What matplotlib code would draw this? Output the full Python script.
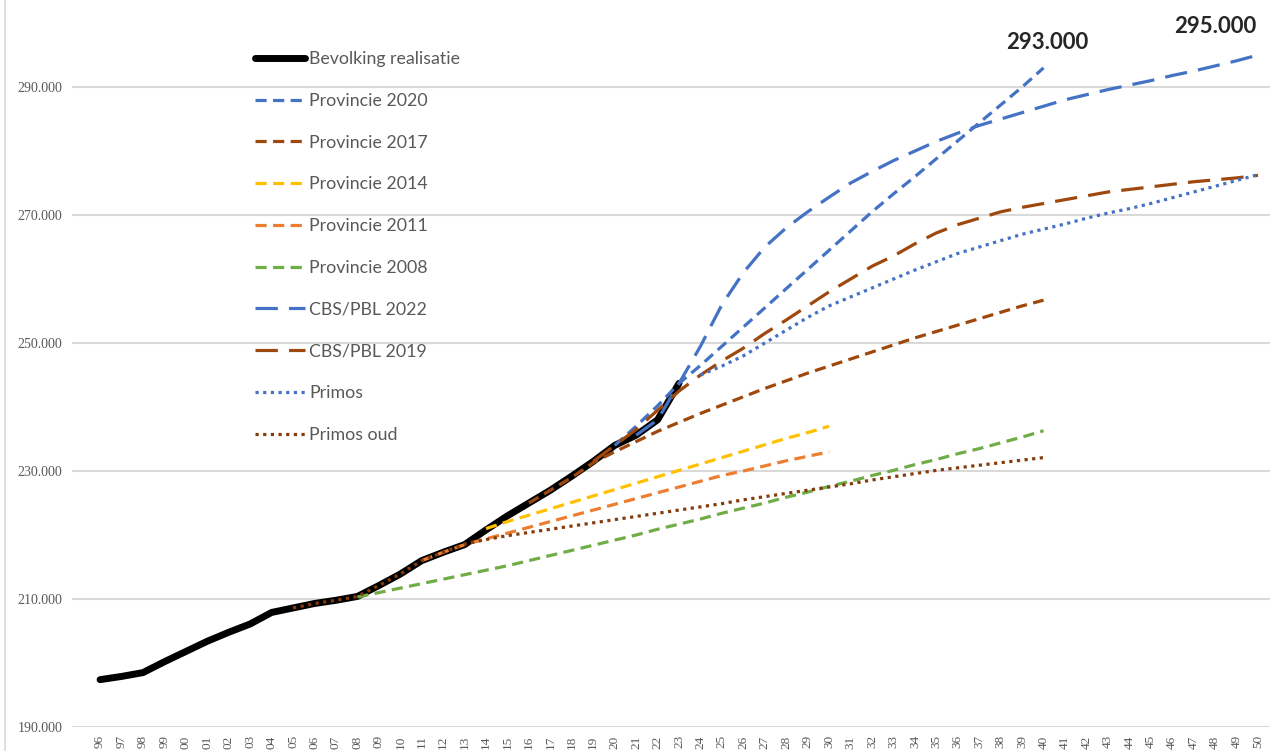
import matplotlib
matplotlib.use("Agg")
import matplotlib.pyplot as plt
from matplotlib.lines import Line2D

# years on the x axis
years = list(range(1996, 2051))

# realised population (Bevolking realisatie)
real_years = list(range(1996, 2024))
real_vals = [197400, 197900, 198500, 200200, 201800, 203400, 204800, 206100,
             207900, 208600, 209300, 209800, 210400, 212100, 213900, 216000,
             217300, 218500, 220800, 223000, 225000, 227000, 229200, 231500,
             234000, 235600, 238000, 243700]

# Provincie 2020
p2020_years = list(range(2020, 2041))
p2020_vals = [234000, 237000, 240200, 243700, 246500, 249500, 252500, 255500,
              258500, 261500, 264500, 267500, 270500, 273300, 276000, 278800,
              281600, 284400, 287200, 290000, 293000]

# Provincie 2017
p2017_years = list(range(2016, 2041))
p2017_vals = [225000, 227000, 229000, 231300, 233000, 234600, 236200, 237600,
              239000, 240300, 241600, 242900, 244100, 245300, 246400, 247500,
              248600, 249700, 250800, 251800, 252800, 253800, 254800, 255800,
              256700]

# Provincie 2014
p2014_years = list(range(2014, 2031))
p2014_vals = [221000, 222100, 223100, 224100, 225100, 226100, 227100, 228100,
              229100, 230100, 231100, 232100, 233100, 234100, 235100, 236000,
              237000]

# Provincie 2011
p2011_years = list(range(2011, 2031))
p2011_vals = [216000, 217300, 218500, 219400, 220300, 221200, 222100, 223000,
              223900, 224800, 225700, 226600, 227500, 228400, 229300, 230000,
              230800, 231600, 232300, 233000]

# Provincie 2008
p2008_years = list(range(2008, 2041))
p2008_vals = [210300, 211000, 211700, 212400, 213100, 213800, 214500, 215200,
              216000, 216800, 217600, 218400, 219200, 220000, 220900, 221700,
              222500, 223400, 224200, 225000, 225900, 226700, 227600, 228400,
              229300, 230100, 231000, 231800, 232700, 233500, 234400, 235300,
              236300]

# CBS/PBL 2022
cbs22_years = list(range(2021, 2051))
cbs22_vals = [235600, 238000, 243700, 249500, 256000, 261000, 265000, 268000,
              270500, 272800, 275000, 276800, 278500, 280000, 281500, 282800,
              284000, 285000, 286000, 287000, 288000, 288800, 289600, 290300,
              291000, 291800, 292500, 293300, 294100, 295000]

# CBS/PBL 2019
cbs19_years = list(range(2019, 2051))
cbs19_vals = [231500, 234000, 236500, 239500, 242500, 245000, 247200, 249200,
              251500, 253600, 255800, 258000, 260000, 262000, 263600, 265500,
              267200, 268500, 269500, 270500, 271200, 271800, 272400, 273000,
              273600, 274000, 274400, 274800, 275200, 275500, 275800, 276200]

# Primos
primos_years = list(range(2024, 2051))
primos_vals = [245000, 246400, 248000, 250000, 252000, 254000, 255800, 257200,
               258600, 260000, 261400, 262700, 264000, 265000, 266000, 267000,
               267800, 268600, 269500, 270300, 271000, 271800, 272700, 273600,
               274500, 275400, 276300]

# Primos oud
primos_oud_years = list(range(2005, 2041))
primos_oud_vals = [208600, 209300, 209800, 210400, 212100, 213900, 216000,
                   217300, 218600, 219300, 219900, 220400, 220900, 221400,
                   221900, 222400, 222900, 223400, 223900, 224400, 224900,
                   225500, 226000, 226500, 227000, 227500, 228000, 228600,
                   229100, 229600, 230100, 230500, 230900, 231300, 231700,
                   232100]

y_ticks = [190000, 210000, 230000, 250000, 270000, 290000]

blue = "#4472C4"
brown = "#9E480E"
dark_brown = "#843C0C"
gold = "#FFC000"
orange = "#ED7D31"
green = "#70AD47"
grey_txt = "#595959"

fig = plt.figure(figsize=(12.7, 7.51), dpi=100)
ax = fig.add_axes([72 / 1270, 1 - 727 / 751, 1 - 72 / 1270, 727 / 751])

short = (3.5, 2.0)
long = (7.0, 3.5)
dots = (1.0, 1.4)

ax.plot(real_years, real_vals, color="black", lw=5, solid_capstyle="round",
        solid_joinstyle="round", label="Bevolking realisatie")
ax.plot(p2020_years, p2020_vals, color=blue, lw=2.3, dashes=short, label="Provincie 2020")
ax.plot(p2017_years, p2017_vals, color=brown, lw=2.3, dashes=short, label="Provincie 2017")
ax.plot(p2014_years, p2014_vals, color=gold, lw=2.3, dashes=short, label="Provincie 2014")
ax.plot(p2011_years, p2011_vals, color=orange, lw=2.3, dashes=short, label="Provincie 2011")
ax.plot(p2008_years, p2008_vals, color=green, lw=2.3, dashes=short, label="Provincie 2008")
ax.plot(cbs22_years, cbs22_vals, color=blue, lw=2.3, dashes=long, label="CBS/PBL 2022")
ax.plot(cbs19_years, cbs19_vals, color=brown, lw=2.3, dashes=long, label="CBS/PBL 2019")
ax.plot(primos_years, primos_vals, color=blue, lw=2.3, dashes=dots, label="Primos")
ax.plot(primos_oud_years, primos_oud_vals, color=dark_brown, lw=2.3, dashes=dots,
        label="Primos oud")

ax.set_xlim(1994.69, 2050.56)
ax.set_ylim(190000, 303600)

ax.set_yticks(y_ticks)
ax.set_yticklabels([f"{v:,}".replace(",", ".") for v in y_ticks],
                   fontfamily="Liberation Serif", fontsize=10, color=grey_txt)
ax.set_xticks(years)
ax.set_xticklabels([str(y)[2:] for y in years], rotation=90,
                   fontfamily="Liberation Serif", fontsize=9.5, color=grey_txt)
ax.tick_params(axis="both", length=0)
ax.tick_params(axis="y", pad=7)
ax.tick_params(axis="x", pad=6)

ax.grid(axis="y", color="#D9D9D9", lw=1.5)
ax.set_axisbelow(True)
for s in ax.spines.values():
    s.set_visible(False)

# data labels at the end of the two highest projections
ax.annotate("293.000", xy=(p2020_years[-1], p2020_vals[-1]), xytext=(3, 11),
            textcoords="offset points", ha="center", va="bottom",
            fontfamily="Lato", fontweight="bold", fontsize=16, color="#262626")
ax.annotate("295.000", xy=(cbs22_years[-1], cbs22_vals[-1]), xytext=(-31, 13),
            textcoords="offset points", ha="center", va="bottom",
            fontfamily="Lato", fontweight="bold", fontsize=16, color="#262626")

leg = ax.legend(loc="upper left", bbox_to_anchor=(255 / 1270, 1 - 51 / 751),
                bbox_transform=fig.transFigure, frameon=False, borderpad=0,
                borderaxespad=0, handlelength=2.8, handletextpad=0.25,
                labelspacing=1.45, prop={"family": "Lato", "size": 12.8})
for t in leg.get_texts():
    t.set_color(grey_txt)

# thin border at the left of the chart
fig.add_artist(Line2D([5 / 1270, 5 / 1270], [0, 1], color="#D9D9D9", lw=1.2,
                      transform=fig.transFigure))

fig.savefig("out.png", dpi=100)
